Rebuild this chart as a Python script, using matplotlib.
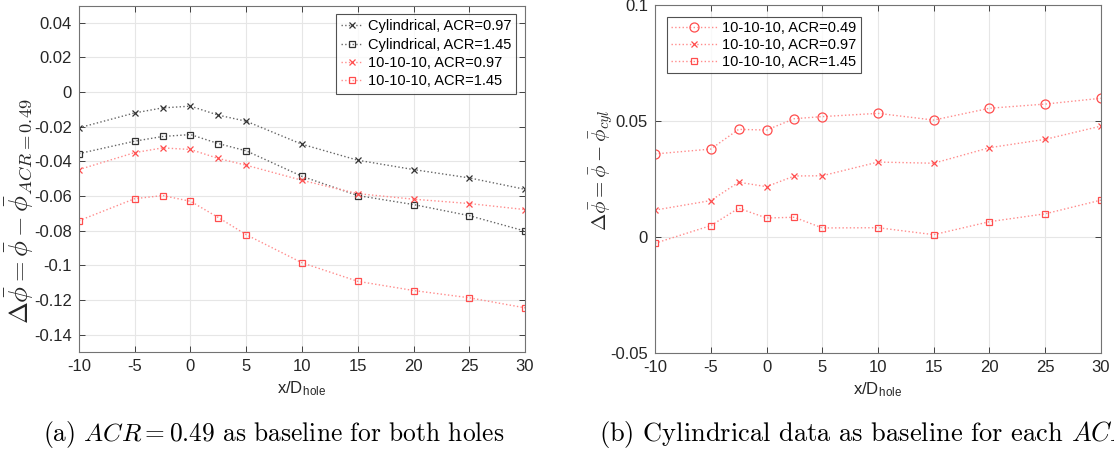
import matplotlib
matplotlib.use("Agg")
import matplotlib.pyplot as plt
from matplotlib.ticker import FuncFormatter

plt.rcParams['font.family'] = ['Liberation Sans', 'DejaVu Sans']
plt.rcParams['mathtext.fontset'] = 'cm'
plt.rcParams['axes.unicode_minus'] = False

x = [-10, -5, -2.5, 0, 2.5, 5, 10, 15, 20, 25, 30]

# (a) ACR=0.49 as baseline
cyl_097 = [-0.0206, -0.0120, -0.0091, -0.0081, -0.0133, -0.0168, -0.0301, -0.0393, -0.0447, -0.0495, -0.0561]
cyl_145 = [-0.0355, -0.0283, -0.0256, -0.0245, -0.0297, -0.0339, -0.0486, -0.0597, -0.0649, -0.0713, -0.0802]
ten_097 = [-0.0447, -0.0349, -0.0322, -0.0331, -0.0383, -0.0422, -0.0509, -0.0586, -0.0618, -0.0643, -0.0678]
ten_145 = [-0.0742, -0.0615, -0.0597, -0.0630, -0.0724, -0.0823, -0.0985, -0.1092, -0.1145, -0.1187, -0.1245]

# (b) cylindrical as baseline
b_049 = [0.0358, 0.0379, 0.0464, 0.0461, 0.0510, 0.0519, 0.0533, 0.0504, 0.0555, 0.0573, 0.0598]
b_097 = [0.0116, 0.0157, 0.0236, 0.0217, 0.0263, 0.0264, 0.0323, 0.0318, 0.0385, 0.0421, 0.0478]
b_145 = [-0.0027, 0.0049, 0.0124, 0.0082, 0.0085, 0.0039, 0.0040, 0.0010, 0.0066, 0.0100, 0.0159]

xticks = [-10, -5, 0, 5, 10, 15, 20, 25, 30]
yticks_a = [0.04, 0.02, 0, -0.02, -0.04, -0.06, -0.08, -0.1, -0.12, -0.14]
yticks_b = [-0.05, 0, 0.05, 0.1]

BLACK_LINE = (0.4, 0.4, 0.4)
BLACK_MK = (0.2, 0.2, 0.2)
RED_LINE = (1.0, 0.55, 0.55)
RED_MK = (1.0, 0.3, 0.3)
AXC = (0.15, 0.15, 0.15)

fig = plt.figure(figsize=(11.14, 4.51), dpi=100)
ax1 = fig.add_axes([0.0709, 0.2195, 0.4004, 0.7683])
ax2 = fig.add_axes([0.5880, 0.2173, 0.4003, 0.7716])

fmt = FuncFormatter(lambda v, p: "%g" % round(v, 4))


def style(ax, yt, ylim):
    ax.set_xlim(-10, 30)
    ax.set_ylim(*ylim)
    ax.set_xticks(xticks)
    ax.set_yticks(yt)
    ax.yaxis.set_major_formatter(fmt)
    ax.xaxis.set_major_formatter(fmt)
    ax.grid(True, color=(0.9, 0.9, 0.9), linewidth=0.8)
    ax.set_axisbelow(True)
    ax.tick_params(direction="in", top=True, right=True, length=4,
                   width=0.6, colors=AXC, labelsize=12, pad=5)
    for s in ax.spines.values():
        s.set_color((0.45, 0.45, 0.45))
        s.set_linewidth(0.8)
    ax.set_xlabel(r"x/D$_{\mathregular{hole}}$", fontsize=12, color=AXC, labelpad=4)


def draw(ax, y, lc, mc, marker, ms, label):
    ax.plot(x, y, linestyle=":", color=lc, linewidth=1.0, marker=marker,
            markersize=ms, markeredgecolor=mc, markerfacecolor="none",
            markeredgewidth=0.9, label=label)


draw(ax1, cyl_097, BLACK_LINE, BLACK_MK, "x", 5, "Cylindrical, ACR=0.97")
draw(ax1, cyl_145, BLACK_LINE, BLACK_MK, "s", 5, "Cylindrical, ACR=1.45")
draw(ax1, ten_097, RED_LINE, RED_MK, "x", 5, "10-10-10, ACR=0.97")
draw(ax1, ten_145, RED_LINE, RED_MK, "s", 5, "10-10-10, ACR=1.45")
style(ax1, yticks_a, (-0.15, 0.05))
ax1.set_ylabel(r"$\Delta\bar{\phi}=\bar{\phi}-\bar{\phi}_{ACR=0.49}$",
               fontsize=19, color=AXC)
ax1.yaxis.set_label_coords(-0.096, 0.407)
leg1 = ax1.legend(loc="upper right", fontsize=10.5, frameon=True, fancybox=False,
                  edgecolor=AXC, handlelength=1.5, handletextpad=0.3,
                  borderpad=0.35, labelspacing=0.3, borderaxespad=0.6)
leg1.get_frame().set_linewidth(0.8)

draw(ax2, b_049, RED_LINE, RED_MK, "o", 6.5, "10-10-10, ACR=0.49")
draw(ax2, b_097, RED_LINE, RED_MK, "x", 5, "10-10-10, ACR=0.97")
draw(ax2, b_145, RED_LINE, RED_MK, "s", 5, "10-10-10, ACR=1.45")
style(ax2, yticks_b, (-0.05, 0.1))
ax2.set_ylabel(r"$\Delta\bar{\phi}=\bar{\phi}-\bar{\phi}_{cyl}$",
               fontsize=15, color=AXC)
ax2.yaxis.set_label_coords(-0.088, 0.526)
leg2 = ax2.legend(loc="upper left", fontsize=10.5, frameon=True, fancybox=False,
                  edgecolor=AXC, handlelength=3.2, handletextpad=0.3,
                  borderpad=0.3, labelspacing=0.2, borderaxespad=0.8)
leg2.get_frame().set_linewidth(0.8)

fig.text(0.0386, 0.022, r"(a) $ACR = 0.49$ as baseline for both holes",
         fontsize=18.3, family="cmr10", ha="left", va="baseline")
# the reference caption runs past the right edge of the image
fig.text(0.538, 0.022, r"(b) Cylindrical data as baseline for each $ACR$",
         fontsize=19, family="cmr10", ha="left", va="baseline")

fig.savefig("out.png", dpi=100)
